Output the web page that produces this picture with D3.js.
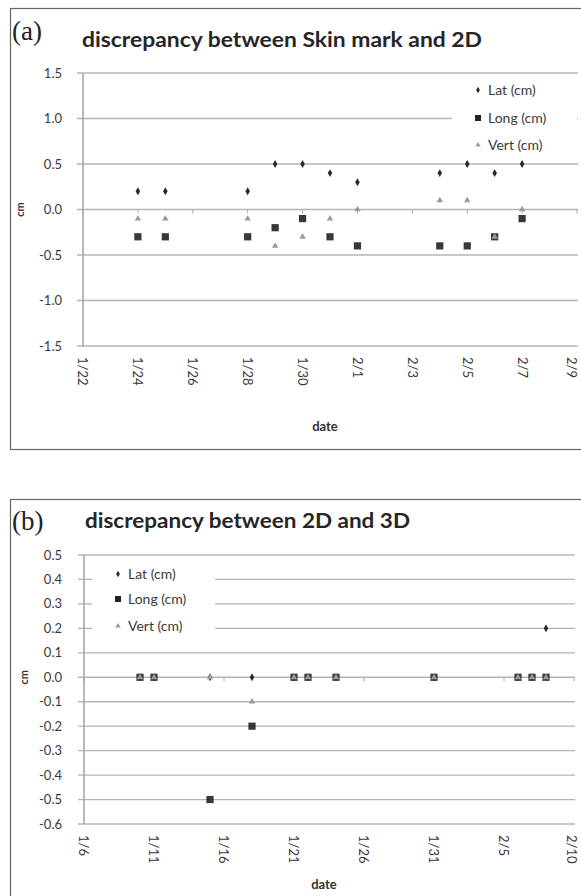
<!DOCTYPE html>
<html><head><meta charset="utf-8">
<script src="https://cdn.jsdelivr.net/npm/d3@7"></script>
<style>body{margin:0;background:#fff}svg{display:block}</style>
</head><body>
<svg id="c" width="581" height="896"></svg>
<script>
// ---------- data ----------
const seriesNames = ["Lat (cm)", "Long (cm)", "Vert (cm)"];

const aTitle = "discrepancy between Skin mark and 2D";
const aDates = ["1/24","1/25","1/28","1/29","1/30","1/31","2/1","2/4","2/5","2/6","2/7"];
const aLat   = [0.2, 0.2, 0.2, 0.5, 0.5, 0.4, 0.3, 0.4, 0.5, 0.4, 0.5];
const aLong  = [-0.3,-0.3,-0.3,-0.2,-0.1,-0.3,-0.4,-0.4,-0.4,-0.3,-0.1];
const aVert  = [-0.1,-0.1,-0.1,-0.4,-0.3,-0.1, 0.0, 0.1, 0.1,-0.3, 0.0];
const aXTicks = ["1/22","1/24","1/26","1/28","1/30","2/1","2/3","2/5","2/7","2/9"];
const aYTicks = [1.5, 1.0, 0.5, 0.0, -0.5, -1.0, -1.5];

const bTitle = "discrepancy between 2D and 3D";
const bDates = ["1/10","1/11","1/15","1/18","1/21","1/22","1/24","1/31","2/6","2/7","2/8"];
const bLat   = [0, 0, 0, 0, 0, 0, 0, 0, 0, 0, 0.2];
const bLong  = [0, 0, -0.5, -0.2, 0, 0, 0, 0, 0, 0, 0];
const bVert  = [0, 0, 0, -0.1, 0, 0, 0, 0, 0, 0, 0];
const bXTicks = ["1/6","1/11","1/16","1/21","1/26","1/31","2/5","2/10"];
const bYTicks = [0.5,0.4,0.3,0.2,0.1,0.0,-0.1,-0.2,-0.3,-0.4,-0.5,-0.6];

// ---------- helpers ----------
const parse = s => { const [m,d] = s.split("/").map(Number); return new Date(2014, m-1, d); };
const svg = d3.select("#c");
const labelFont = "Lato, 'Open Sans', sans-serif";
const markerStyle = [
  {type: d3.symbolDiamond, size: 18, fill: "#2a2a2a"},
  {type: d3.symbolSquare,  size: 52, fill: "#222"},
  {type: d3.symbolTriangle, size: 18, fill: "#9a9a9a"}
];

function panel(cfg) {
  const g = svg.append("g");
  // frame
  g.append("rect").attr("x", 10.5).attr("y", cfg.frameTop + 0.5)
    .attr("width", 600).attr("height", cfg.frameH)
    .attr("fill", "none").attr("stroke", "#666").attr("stroke-width", 1.2);
  // label (a)/(b)
  g.append("text").attr("x", 12).attr("y", cfg.tagY)
    .attr("font-family", "'Liberation Serif', 'DejaVu Serif', serif").attr("font-size", 27)
    .attr("fill", "#222").text(cfg.tag);
  // title
  g.append("text").attr("x", cfg.titleX).attr("y", cfg.titleY)
    .attr("font-family", labelFont).attr("font-weight", "bold").attr("font-size", 20)
    .attr("textLength", cfg.titleLen).attr("lengthAdjust", "spacingAndGlyphs")
    .attr("fill", "#262626").text(cfg.title);

  const dom = cfg.xTicks.map(parse);
  const x = d3.scaleTime().domain([dom[0], dom[dom.length-1]]).range(cfg.xRange);
  const y = d3.scaleLinear().domain([cfg.yTicks[cfg.yTicks.length-1], cfg.yTicks[0]]).range(cfg.yRange);

  // gridlines (with outward tick)
  g.append("g").selectAll("line").data(cfg.yTicks).join("line")
    .attr("x1", cfg.xRange[0] - 6).attr("x2", cfg.xRange[1] + 1)
    .attr("y1", d => y(d)).attr("y2", d => y(d))
    .attr("stroke", "#b4b4b4").attr("stroke-width", 1.3);

  // y axis line
  g.append("line").attr("x1", cfg.xRange[0]).attr("x2", cfg.xRange[0])
    .attr("y1", cfg.yRange[1]).attr("y2", cfg.yRange[0])
    .attr("stroke", "#a8a8a8").attr("stroke-width", 1.6);

  // y tick labels
  g.append("g").selectAll("text").data(cfg.yTicks).join("text")
    .attr("x", 62).attr("y", d => y(d)).attr("dy", "0.35em").attr("text-anchor", "end")
    .attr("font-family", labelFont).attr("font-size", 13).attr("fill", "#3a3a3a")
    .text(d => d.toFixed(1));

  // x axis at y = 0, tick marks downward
  g.append("g").selectAll("line").data(cfg.xTicks.map(parse)).join("line")
    .attr("x1", d => x(d)).attr("x2", d => x(d))
    .attr("y1", y(0)).attr("y2", y(0) + 4)
    .attr("stroke", "#a8a8a8").attr("stroke-width", 1);

  // x tick labels (rotated, at bottom)
  g.append("g").selectAll("text").data(cfg.xTicks).join("text")
    .attr("transform", d => `translate(${Math.min(x(parse(d)), 572)},${cfg.yRange[0] + 11}) rotate(90)`)
    .attr("dy", "0.35em").attr("text-anchor", "start")
    .attr("font-family", labelFont).attr("font-size", 13).attr("fill", "#3a3a3a")
    .text(d => d);

  // axis titles
  g.append("text").attr("transform", `translate(${cfg.cmX},${y(0)}) rotate(-90)`)
    .attr("text-anchor", "middle").attr("dy", "0.35em")
    .attr("font-family", labelFont).attr("font-weight", "bold").attr("font-size", 11)
    .attr("fill", "#333").text("cm");
  g.append("text").attr("x", cfg.dateX).attr("y", cfg.dateY).attr("text-anchor", "middle")
    .attr("font-family", labelFont).attr("font-weight", "bold").attr("font-size", 13)
    .attr("fill", "#333").text("date");

  // legend box
  const lg = cfg.legend;
  g.append("rect").attr("x", lg.x0).attr("y", lg.y0).attr("width", lg.w).attr("height", lg.h)
    .attr("fill", "#fff");
  seriesNames.forEach((n, i) => {
    const ms = markerStyle[i];
    g.append("path").attr("d", d3.symbol(ms.type, ms.size * 0.7)())
      .attr("transform", `translate(${lg.mx},${lg.rows[i]})`).attr("fill", ms.fill);
    g.append("text").attr("x", lg.mx + 10).attr("y", lg.rows[i]).attr("dy", "0.35em")
      .attr("font-family", labelFont).attr("font-size", 14).attr("fill", "#3a3a3a").text(n);
  });

  // points
  const series = [cfg.lat, cfg.long, cfg.vert];
  series.forEach((vals, si) => {
    const ms = markerStyle[si];
    g.append("g").selectAll("path").data(vals.map((v, i) => ({d: parse(cfg.dates[i]), v})))
      .join("path")
      .attr("d", d3.symbol(ms.type, ms.size)())
      .attr("transform", p => `translate(${x(p.d)},${y(p.v)})`)
      .attr("fill", ms.fill).attr("opacity", si === 1 ? 0.9 : 1);
  });
}

panel({
  tag: "(a)", tagY: 40, title: aTitle, titleX: 82, titleY: 47, titleLen: 400,
  frameTop: 8, frameH: 441,
  dates: aDates, lat: aLat, long: aLong, vert: aVert,
  xTicks: aXTicks, yTicks: aYTicks,
  xRange: [83, 577], yRange: [346, 73],
  cmX: 20, dateX: 325, dateY: 431,
  legend: {x0: 452, y0: 79, w: 125, h: 78, mx: 478, rows: [90, 118, 145]}
});

panel({
  tag: "(b)", tagY: 530, title: bTitle, titleX: 85, titleY: 528, titleLen: 325,
  frameTop: 499, frameH: 420,
  dates: bDates, lat: bLat, long: bLong, vert: bVert,
  xTicks: bXTicks, yTicks: bYTicks,
  xRange: [84, 574], yRange: [824, 555],
  cmX: 24, dateX: 324, dateY: 889,
  legend: {x0: 92, y0: 563, w: 123, h: 78, mx: 118, rows: [574, 599, 626]}
});
</script>
</body></html>
